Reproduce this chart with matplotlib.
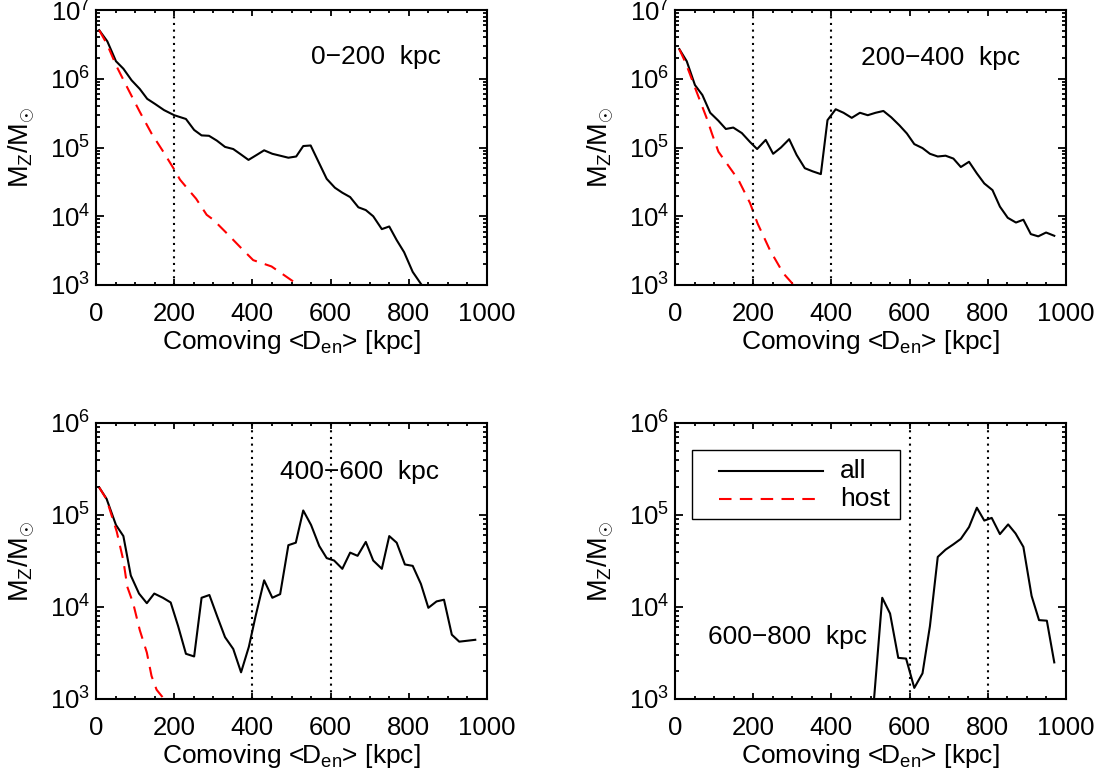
import numpy as np
import matplotlib
matplotlib.use('Agg')
import matplotlib.pyplot as plt
from matplotlib.patches import Rectangle
from matplotlib.ticker import MultipleLocator, LogLocator, NullFormatter

plt.rcParams['font.family'] = ['Liberation Sans', 'DejaVu Sans']
plt.rcParams['mathtext.fontset'] = 'custom'
plt.rcParams['mathtext.rm'] = 'Liberation Sans'
plt.rcParams['mathtext.it'] = 'Liberation Sans'
plt.rcParams['mathtext.bf'] = 'Liberation Sans:bold'

# ---- datos ----
# panel 0-200 kpc
x_all_1 = [8, 29, 51, 70, 91, 112, 131, 151, 174, 200, 230, 251, 270, 289, 309, 330, 351, 371, 390,
           411, 430, 451, 471, 492, 512, 530, 549, 569, 590, 611, 630, 650, 671, 690, 709, 731, 750,
           769, 788, 810, 833, 850]
m_all_1 = [5.1e6, 3.5e6, 1.8e6, 1.4e6, 9.5e5, 7.1e5, 5.1e5, 4.3e5, 3.5e5, 2.95e5, 2.6e5, 1.8e5, 1.5e5,
           1.48e5, 1.26e5, 1.02e5, 9.5e4, 7.9e4, 6.6e4, 7.8e4, 9.1e4, 8.1e4, 7.6e4, 7.1e4, 7.4e4, 1.05e5,
           1.07e5, 6.2e4, 3.5e4, 2.6e4, 2.2e4, 1.9e4, 1.35e4, 1.23e4, 1.0e4, 6.5e3, 7.1e3, 4.5e3, 3.0e3,
           1.55e3, 1.0e3, 6.5e2]
x_host_1 = [8, 28, 53, 83, 112, 142, 172, 198, 215, 240, 256, 283, 300, 338, 368, 402, 449, 505, 530]
m_host_1 = [5.1e6, 3.2e6, 1.5e6, 6.9e5, 3.3e5, 1.6e5, 8.7e4, 5.0e4, 3.4e4, 2.3e4, 1.8e4, 1.05e4, 8.9e3,
            5.4e3, 3.6e3, 2.3e3, 1.86e3, 1.12e3, 8.5e2]

# panel 200-400 kpc
x_all_2 = [11, 30, 51, 70, 90, 111, 130, 149, 171, 192, 210, 232, 251, 271, 292, 311, 332, 352, 373,
           390, 411, 431, 452, 473, 493, 513, 533, 553, 574, 593, 612, 633, 652, 672, 692, 712, 731,
           752, 772, 791, 812, 831, 851, 872, 891, 910, 929, 949, 970]
m_all_2 = [2.7e6, 1.8e6, 8.1e5, 5.8e5, 3.2e5, 2.45e5, 1.86e5, 1.95e5, 1.62e5, 1.2e5, 9.5e4, 1.29e5,
           8.1e4, 1.0e5, 1.32e5, 7.8e4, 5.0e4, 4.5e4, 4.1e4, 2.5e5, 3.6e5, 3.2e5, 2.7e5, 3.2e5, 2.95e5,
           3.2e5, 3.4e5, 2.75e5, 2.1e5, 1.6e5, 1.12e5, 9.8e4, 8.1e4, 7.4e4, 7.6e4, 6.9e4, 5.2e4, 6.2e4,
           4.2e4, 3.0e4, 2.4e4, 1.38e4, 9.5e3, 8.1e3, 8.9e3, 5.5e3, 5.1e3, 5.8e3, 5.2e3]
x_host_2 = [11, 28, 55, 83, 94, 111, 141, 162, 192, 211, 243, 277, 307]
m_host_2 = [2.7e6, 1.66e6, 6.5e5, 2.5e5, 1.62e5, 8.7e4, 5.0e4, 3.4e4, 1.55e4, 7.9e3, 3.2e3, 1.48e3, 9.5e2]

# panel 400-600 kpc
x_all_3 = [8, 27, 51, 70, 89, 110, 130, 149, 171, 191, 210, 230, 251, 270, 290, 310, 330, 351, 371,
           391, 408, 430, 451, 471, 492, 511, 530, 550, 571, 590, 609, 630, 650, 669, 690, 709, 731,
           750, 769, 790, 810, 831, 850, 871, 890, 910, 929, 950, 970]
m_all_3 = [2.0e5, 1.5e5, 7.8e4, 5.9e4, 2.2e4, 1.4e4, 1.1e4, 1.4e4, 1.26e4, 1.12e4, 6.2e3, 3.1e3,
           2.9e3, 1.26e4, 1.35e4, 7.9e3, 4.7e3, 3.5e3, 1.95e3, 3.7e3, 7.9e3, 1.95e4, 1.26e4, 1.38e4,
           4.7e4, 5.0e4, 1.12e5, 7.8e4, 4.6e4, 3.4e4, 3.2e4, 2.6e4, 3.9e4, 3.6e4, 5.1e4, 3.2e4, 2.6e4,
           5.9e4, 5.0e4, 2.9e4, 2.8e4, 1.78e4, 9.8e3, 1.15e4, 1.2e4, 5.0e3, 4.2e3, 4.3e3, 4.4e3]
x_host_3 = [8, 27, 53, 70, 80, 95, 112, 130, 142, 155, 170, 180]
m_host_3 = [2.0e5, 1.48e5, 6.6e4, 3.2e4, 1.66e4, 1.1e4, 5.6e3, 3.2e3, 1.78e3, 1.26e3, 1.05e3, 9.0e2]

# panel 600-800 kpc
x_all_4 = [490, 530, 550, 571, 591, 612, 633, 652, 672, 692, 712, 731, 752, 772, 791, 810, 831, 852,
           871, 891, 912, 931, 951, 970]
m_all_4 = [1.0e2, 1.26e4, 8.5e3, 2.8e3, 2.75e3, 1.32e3, 1.9e3, 6.2e3, 3.5e4, 4.2e4, 4.8e4, 5.5e4,
           7.4e4, 1.2e5, 8.7e4, 9.3e4, 6.2e4, 7.9e4, 6.3e4, 4.5e4, 1.32e4, 7.2e3, 7.1e3, 2.5e3]
x_host_4 = []
m_host_4 = []

etiquetas = ['0\u2212200  kpc', '200\u2212400  kpc', '400\u2212600  kpc', '600\u2212800  kpc']
lineas_v = [[200], [200, 400], [400, 600], [600, 800]]
y_max = [1e7, 1e7, 1e6, 1e6]
nombres = ['all', 'host']

# ---- figura ----
W, H = 1104, 776
fig = plt.figure(figsize=(W / 100, H / 100), dpi=100)

cajas = [(96, 10, 487, 285), (675, 10, 1066, 285), (96, 423, 487, 699), (675, 423, 1066, 699)]
pos_txt = [(0.716, 0.829), (0.678, 0.827), (0.675, 0.823), (0.289, 0.223)]

datos = [(x_all_1, m_all_1, x_host_1, m_host_1),
         (x_all_2, m_all_2, x_host_2, m_host_2),
         (x_all_3, m_all_3, x_host_3, m_host_3),
         (x_all_4, m_all_4, x_host_4, m_host_4)]

for i in range(4):
    x0, y0, x1, y1 = cajas[i]
    ax = fig.add_axes([x0 / W, 1 - y1 / H, (x1 - x0) / W, (y1 - y0) / H])
    xa, ma, xh, mh = datos[i]

    ax.plot(xa, ma, color='k', lw=1.5)
    ax.plot(xh, mh, color='red', lw=1.5, dashes=(6, 4))
    for xv in lineas_v[i]:
        ax.axvline(xv, color='k', lw=1.5, ls=(0, (1, 2.2)))

    ax.set_xlim(0, 1000)
    ax.set_yscale('log')
    ax.set_ylim(1e3, y_max[i])
    ax.xaxis.set_major_locator(MultipleLocator(200))
    ax.xaxis.set_minor_locator(MultipleLocator(50))
    ax.yaxis.set_major_locator(LogLocator(base=10))
    ax.yaxis.set_minor_locator(LogLocator(base=10, subs=np.arange(2, 10)))
    ax.yaxis.set_minor_formatter(NullFormatter())

    for s in ax.spines.values():
        s.set_linewidth(1.5)
    ax.tick_params(which='both', direction='in', top=True, right=True, width=1.3, labelsize=18.5)
    ax.tick_params(axis='x', which='major', length=4.5, pad=12)
    ax.tick_params(axis='x', which='minor', length=2.2)
    ax.tick_params(axis='y', which='major', length=6, pad=4)
    ax.tick_params(axis='y', which='minor', length=3)

    ax.set_xlabel(r'Comoving <D$_{\rm en}$> [kpc]', fontsize=19, labelpad=2)
    ax.set_ylabel(r'M$_{\rm Z}$/M$_{\odot}$', fontsize=19.5)
    ax.yaxis.set_label_coords(-0.15, 0.5)

    ax.text(pos_txt[i][0], pos_txt[i][1], etiquetas[i], transform=ax.transAxes,
            ha='center', va='center', fontsize=19)

    if i == 3:
        # leyenda dibujada a mano (estilo IDL)
        ax.add_patch(Rectangle((0.0435, 0.652), 0.5315, 0.249, transform=ax.transAxes,
                               fill=False, edgecolor='k', lw=1.0))
        ax.plot([0.1125, 0.3785], [0.827, 0.827], transform=ax.transAxes, color='k', lw=1.5)
        ax.plot([0.1125, 0.3785], [0.725, 0.725], transform=ax.transAxes, color='red', lw=1.5,
                dashes=(6, 4))
        ax.text(0.422, 0.827, nombres[0], transform=ax.transAxes, ha='left', va='center', fontsize=19)
        ax.text(0.422, 0.725, nombres[1], transform=ax.transAxes, ha='left', va='center', fontsize=19)

fig.savefig('out.png', dpi=100)
